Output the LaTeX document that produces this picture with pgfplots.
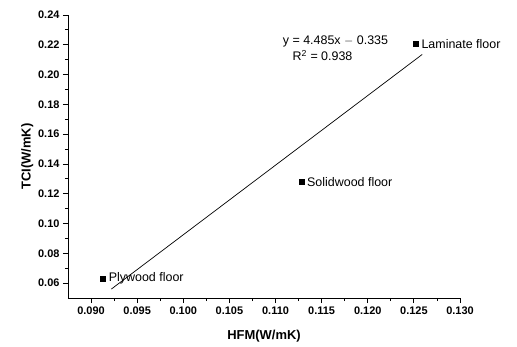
\documentclass[border=0pt]{standalone}
\usepackage{pgfplots}
\pgfplotsset{compat=1.18}
\usepackage{fontspec}
\setmainfont{Liberation Sans}
\begin{document}
\begin{tikzpicture}
\path[use as bounding box] (-68bp,-49bp) rectangle (449bp,298bp);
\begin{axis}[
  scale only axis,
  width=392bp, height=283bp,
  xmin=0.0875, xmax=0.130,
  ymin=0.05, ymax=0.24,
  axis x line*=bottom, axis y line*=left,
  axis line style={-, line width=0.8pt},
  tick align=outside,
  major tick length=5bp, minor tick length=3bp,
  every tick/.style={black, line width=0.8pt},
  xtick={0.090,0.095,...,0.1301},
  ytick={0.06,0.08,...,0.241},
  minor tick num=1,
  /pgf/number format/assume math mode=true,
  xticklabel style={/pgf/number format/.cd, fixed, fixed zerofill, precision=3},
  yticklabel style={/pgf/number format/.cd, fixed, fixed zerofill, precision=2},
  ticklabel style={font=\bfseries\fontsize{11}{13}\selectfont},
  scaled x ticks=false, scaled y ticks=false,
  xlabel={HFM(W/mK)}, ylabel={TCI(W/mK)},
  label style={font=\bfseries\fontsize{13}{15}\selectfont},
  xlabel style={yshift=-9bp},
  ylabel style={yshift=-2bp},
  clip=false,
]
\addplot[only marks, mark=square*, mark size=2.6bp, black] coordinates {
  (0.1252,0.2205) (0.1128,0.128) (0.0913,0.063)
};
\addplot[black, line width=0.7pt] coordinates {(0.0922,0.056) (0.1259,0.2135)};
\node[anchor=west, font=\fontsize{12.5}{14}\selectfont, inner sep=1pt] at (axis cs:0.1257,0.2205) {Laminate floor};
\node[anchor=west, font=\fontsize{12.5}{14}\selectfont, inner sep=1pt] at (axis cs:0.1133,0.128) {Solidwood floor};
\node[anchor=west, font=\fontsize{12.5}{14}\selectfont, inner sep=1pt] at (axis cs:0.0918,0.063) {Plywood floor};
\node[font=\fontsize{12.5}{14}\selectfont] at (axis cs:0.1165,0.2225) {y = 4.485x $-$ 0.335};
\node[font=\fontsize{12.5}{14}\selectfont] at (axis cs:0.1151,0.213) {R\textsuperscript{2} = 0.938};
\end{axis}
\end{tikzpicture}
\end{document}
